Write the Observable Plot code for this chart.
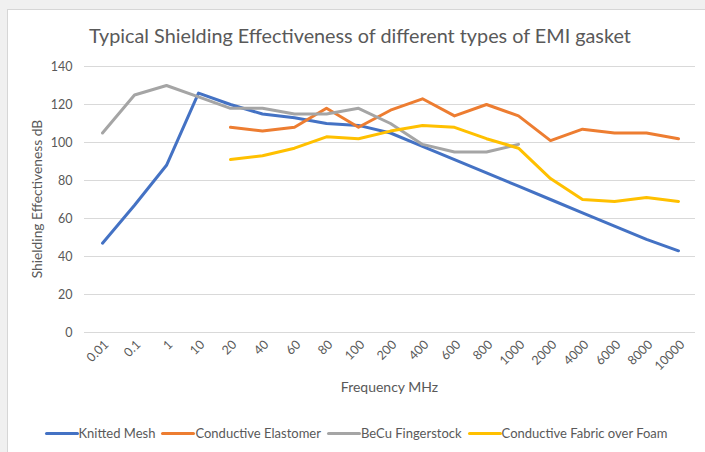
<!DOCTYPE html>
<html>
<head>
<meta charset="utf-8">
<script src="https://cdn.jsdelivr.net/npm/d3@7"></script>
<script src="https://cdn.jsdelivr.net/npm/@observablehq/plot@0.6"></script>
<style>
  html, body { margin: 0; padding: 0; background: #f0f0f0; width: 705px; height: 452px; overflow: hidden; font-family: Lato, "Noto Sans", sans-serif; color: #595959; }
  #panel { position: absolute; left: 7px; top: 9px; width: 705px; height: 460px; background: #fff; border-left: 1px solid #d6d6d6; border-top: 1px solid #d6d6d6; }
  #title { position: absolute; left: 0; top: 23px; width: 720px; text-align: center; font-size: 19.8px; color: #595959; line-height: 24px; }
  #chart { position: absolute; left: 0; top: 50px; }
  #xlabel { position: absolute; left: 84px; width: 611px; top: 379px; text-align: center; font-size: 14px; line-height: 16px; }
  #ylabel { position: absolute; left: 37px; top: 199px; transform: translate(-50%, -50%) rotate(-90deg); white-space: nowrap; font-size: 13.8px; line-height: 16px; }
  #legend { position: absolute; left: 0; width: 712px; top: 425px; display: flex; justify-content: center; font-size: 13px; line-height: 16px; }
  .item { display: flex; align-items: center; margin: 0 3px; }
  .sw { width: 34px; height: 3px; border-radius: 1.5px; }
</style>
</head>
<body>
<div id="panel"></div>
<div id="title">Typical Shielding Effectiveness of different types of EMI gasket</div>
<div id="chart"></div>
<div id="xlabel">Frequency MHz</div>
<div id="ylabel">Shielding Effectiveness dB</div>
<div id="legend"></div>
<script>
const categories = ["0.01","0.1","1","10","20","40","60","80","100","200","400","600","800","1000","2000","4000","6000","8000","10000"];
const yTicks = [0, 20, 40, 60, 80, 100, 120, 140];
const seriesNames = ["Knitted Mesh", "Conductive Elastomer", "BeCu Fingerstock", "Conductive Fabric over Foam"];
const seriesColors = ["#4472C4", "#ED7D31", "#A5A5A5", "#FFC000"];
const knittedMesh = [47, 67, 88, 126, 120, 115, 113, 110, 109, 105, 98, 91, 84, 77, 70, 63, 56, 49, 43];
const conductiveElastomer = [null, null, null, null, 108, 106, 108, 118, 108, 117, 123, 114, 120, 114, 101, 107, 105, 105, 102];
const beCuFingerstock = [105, 125, 130, 124, 118, 118, 115, 115, 118, 110, 99, 95, 95, 99, null, null, null, null, null];
const conductiveFabric = [null, null, null, null, 91, 93, 97, 103, 102, 106, 109, 108, 102, 97, 81, 70, 69, 71, 69];

const seriesValues = [knittedMesh, conductiveElastomer, beCuFingerstock, conductiveFabric];
const data = [];
seriesValues.forEach((vals, s) => vals.forEach((v, i) => {
  if (v != null) data.push({series: seriesNames[s], freq: categories[i], se: v});
}));

const chart = Plot.plot({
  width: 705,
  height: 350,
  marginTop: 16,
  marginBottom: 68,
  marginLeft: 84,
  marginRight: 10,
  style: { fontFamily: "Lato, 'Noto Sans', sans-serif", fontSize: "12px", color: "#595959", background: "transparent", overflow: "visible" },
  x: { type: "point", domain: categories, padding: 0.5, label: null },
  y: { domain: [0, 140], label: null },
  color: { domain: seriesNames, range: seriesColors },
  marks: [
    Plot.gridY(yTicks, { stroke: "#d9d9d9", strokeOpacity: 1, strokeWidth: 1 }),
    Plot.axisY(yTicks, { tickSize: 0, tickPadding: 12, fontSize: 12.5, fill: "#595959", label: null }),
    Plot.axisX({ tickSize: 0, tickRotate: -45, tickPadding: 10, dx: 4, fontSize: 12.5, fill: "#595959", label: null }),
    Plot.line(data, { x: "freq", y: "se", z: "series", stroke: "series", strokeWidth: 3, strokeLinecap: "round", strokeLinejoin: "round" })
  ]
});
document.getElementById("chart").appendChild(chart);

const legend = document.getElementById("legend");
seriesNames.forEach((name, i) => {
  const item = document.createElement("div");
  item.className = "item";
  const sw = document.createElement("div");
  sw.className = "sw";
  sw.style.background = seriesColors[i];
  const label = document.createElement("span");
  label.textContent = name;
  item.appendChild(sw);
  item.appendChild(label);
  legend.appendChild(item);
});
</script>
</body>
</html>
